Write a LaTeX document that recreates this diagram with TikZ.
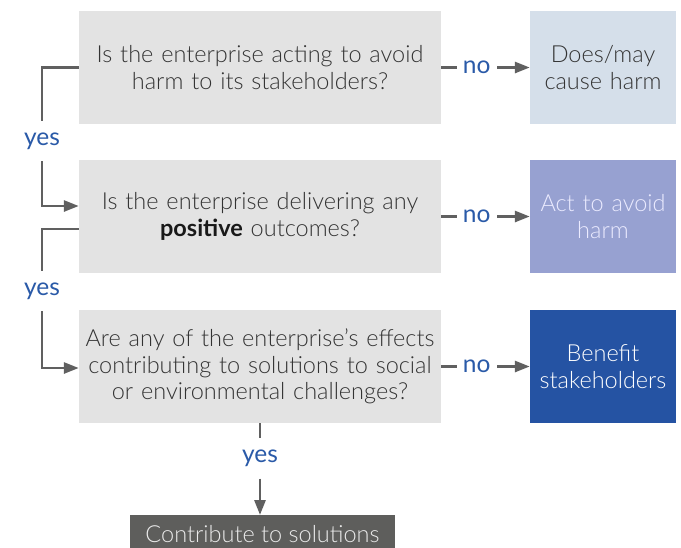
\documentclass[tikz,border=0pt]{standalone}
\usepackage{fontspec}
\setmainfont{Lato}[UprightFont=* Light, BoldFont=* Bold]
\newfontfamily\lblfont{Lato}
\usetikzlibrary{arrows.meta,calc}
\definecolor{qbox}{HTML}{E3E3E3}
\definecolor{rone}{HTML}{D5DFEA}
\definecolor{rtwo}{HTML}{97A1D1}
\definecolor{rthree}{HTML}{2553A3}
\definecolor{bbox}{HTML}{5E5E5C}
\definecolor{conncol}{HTML}{606060}
\definecolor{lblcol}{HTML}{2A5AA8}
\definecolor{qtext}{HTML}{333333}
\begin{document}
\begin{tikzpicture}[x=1pt,y=-1pt,
  every node/.style={font=\fontsize{23.5}{26.5}\selectfont},
  qnode/.style={rectangle, fill=qbox, minimum width=362pt, minimum height=113pt, text width=358pt, align=center, text=qtext, inner sep=0pt},
  rnode/.style={rectangle, minimum width=146pt, minimum height=113pt, text width=146pt, align=center, inner sep=0pt},
  lbl/.style={fill=white, text=lblcol, inner sep=0pt, minimum height=40pt, minimum width=40pt, font=\lblfont\fontsize{24.5}{26}\selectfont},
  conn/.style={draw=conncol, line width=2.8pt},
  arrow/.style={conn, -{Triangle[length=15pt,width=11pt]}}]
\useasboundingbox (0,0) rectangle (681,547);
\clip (0,0) rectangle (681,547);
\node[qnode] (Q1) at (260,67.5) {Is the enterprise acting to avoid\\harm to its stakeholders?};
\node[qnode] (Q2) at (260,216.5) {Is the enterprise delivering any\\\textcolor{black!90}{\textbf{positive}} outcomes?};
\node[qnode] (Q3) at (260,366.5) {Are any of the enterprise’s effects\\contributing to solutions to social\\or environmental challenges?};
\node[rnode, fill=rone, text=qtext] (R1) at (603,67.5) {Does/may\\cause harm};
\node[rnode, fill=rtwo, text=white!92!blue] (R2) at (603,216.5) {Act to avoid\\harm};
\node[rnode, fill=rthree, text=white] (R3) at (603,366.5) {Benefit\\stakeholders};
\node[rectangle, fill=bbox, text=white!92!black, minimum width=265pt, minimum height=44pt, inner sep=0pt, anchor=north] (B) at (262.5,515) {\raisebox{7pt}{Contribute to solutions}};
% no arrows
\draw[arrow] (Q1.east) -- node[lbl, pos=0.4] {no} (R1.west);
\draw[arrow] (Q2.east) -- node[lbl, pos=0.4] {no} (R2.west);
\draw[arrow] (Q3.east) -- node[lbl, pos=0.4] {no} (R3.west);
% yes connectors
\node[lbl] (Y1) at (42,141) {yes};
\node[lbl] (Y2) at (42,291) {yes};
\node[lbl] (Y3) at (260,458.5) {yes};
\draw[conn] (Q1.west) -| (Y1.north);
\draw[arrow] (Y1.south) |- ($(Q2.west)+(0,-10.5)$);
\draw[conn] ($(Q2.west)+(0,12.5)$) -| (Y2.north);
\draw[arrow] (Y2.south) |- ($(Q3.west)+(0,1.5)$);
\draw[conn] (Q3.south) -- (Y3.north);
\draw[arrow] (Y3.south) -- (Y3.south |- B.north);
\end{tikzpicture}
\end{document}
